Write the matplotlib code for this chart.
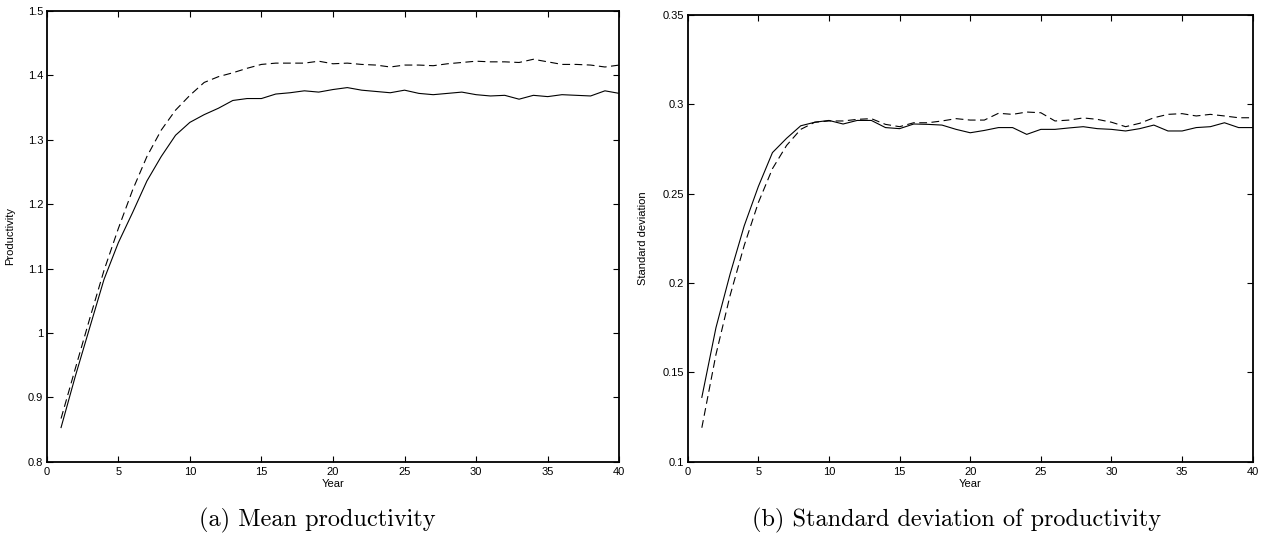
import numpy as np
import matplotlib
matplotlib.use("Agg")
import matplotlib.pyplot as plt
from matplotlib.ticker import FuncFormatter

years = list(range(1, 41))

#mean productivity: [solid, dashed]
mean_solid = [0.853, 0.933, 1.008, 1.083, 1.140, 1.187, 1.236, 1.274, 1.307, 1.327,
              1.339, 1.349, 1.361, 1.364, 1.364, 1.371, 1.373, 1.376, 1.374, 1.378,
              1.381, 1.377, 1.375, 1.373, 1.377, 1.372, 1.370, 1.372, 1.374, 1.370,
              1.368, 1.369, 1.363, 1.369, 1.367, 1.370, 1.369, 1.368, 1.376, 1.372]
mean_dashed = [0.867, 0.945, 1.022, 1.097, 1.162, 1.222, 1.274, 1.315, 1.346, 1.369,
               1.389, 1.398, 1.404, 1.411, 1.417, 1.419, 1.419, 1.419, 1.422, 1.418,
               1.419, 1.417, 1.416, 1.413, 1.416, 1.416, 1.415, 1.418, 1.420, 1.422,
               1.421, 1.421, 1.420, 1.425, 1.421, 1.417, 1.417, 1.416, 1.413, 1.416]

#standard deviation: [solid, dashed]
sd_solid = [0.136, 0.175, 0.205, 0.232, 0.254, 0.273, 0.281, 0.288, 0.290, 0.291,
            0.289, 0.291, 0.291, 0.287, 0.2864, 0.289, 0.2888, 0.2884, 0.286, 0.2841,
            0.2854, 0.287, 0.287, 0.2832, 0.286, 0.286, 0.2868, 0.2875, 0.2864, 0.286,
            0.2851, 0.2864, 0.2884, 0.2851, 0.2851, 0.287, 0.2875, 0.2897, 0.287, 0.287]
sd_dashed = [0.119, 0.160, 0.193, 0.221, 0.245, 0.264, 0.277, 0.286, 0.290, 0.2907,
             0.2907, 0.2916, 0.292, 0.2888, 0.2875, 0.2897, 0.2897, 0.2907, 0.292, 0.2912,
             0.2912, 0.295, 0.2944, 0.2957, 0.2953, 0.2907, 0.2912, 0.2924, 0.2916, 0.290,
             0.2875, 0.2894, 0.2925, 0.2944, 0.2948, 0.2935, 0.2944, 0.2935, 0.2925, 0.2925]

xticks = [0, 5, 10, 15, 20, 25, 30, 35, 40]
mean_yticks = [0.8, 0.9, 1.0, 1.1, 1.2, 1.3, 1.4, 1.5]
sd_yticks = [0.1, 0.15, 0.2, 0.25, 0.3, 0.35]

plt.rcParams["font.family"] = ["Liberation Sans", "DejaVu Sans"]

fig = plt.figure(figsize=(12.7, 5.46), dpi=100)
ax1 = fig.add_axes([0.0368, 0.1544, 0.4508, 0.8255])
ax2 = fig.add_axes([0.5415, 0.1544, 0.4449, 0.8181])


def style(ax, yticks, ylabel, labelx):
    ax.set_xlim(0, 40)
    ax.set_ylim(yticks[0], yticks[-1])
    ax.set_xticks(xticks)
    ax.set_yticks(yticks)
    ax.yaxis.set_major_formatter(FuncFormatter(lambda v, p: "%g" % round(v, 4)))
    ax.tick_params(direction="in", length=4, width=0.8, labelsize=8, pad=2.5,
                   top=True, right=True)
    ax.tick_params(axis="x", pad=4)
    for s in ax.spines.values():
        s.set_linewidth(1.3)
    ax.set_xlabel("Year", fontsize=8, labelpad=1)
    ax.set_ylabel(ylabel, fontsize=8)
    ax.yaxis.set_label_coords(labelx, 0.5)


ax1.plot(years, mean_solid, color="black", lw=0.8)
ax1.plot(years, mean_dashed, color="black", lw=0.8, linestyle=(0, (7, 4)))
style(ax1, mean_yticks, "Productivity", -0.055)

ax2.plot(years, sd_solid, color="black", lw=0.8)
ax2.plot(years, sd_dashed, color="black", lw=0.8, linestyle=(0, (7, 4)))
style(ax2, sd_yticks, "Standard deviation", -0.07)

fig.text(0.25, 0.035, "(a) Mean productivity", family="cmr10", fontsize=17.5,
         ha="center", va="baseline")
fig.text(0.7535, 0.035, "(b) Standard deviation of productivity", family="cmr10",
         fontsize=17.5, ha="center", va="baseline")

fig.savefig("out.png", dpi=100)
